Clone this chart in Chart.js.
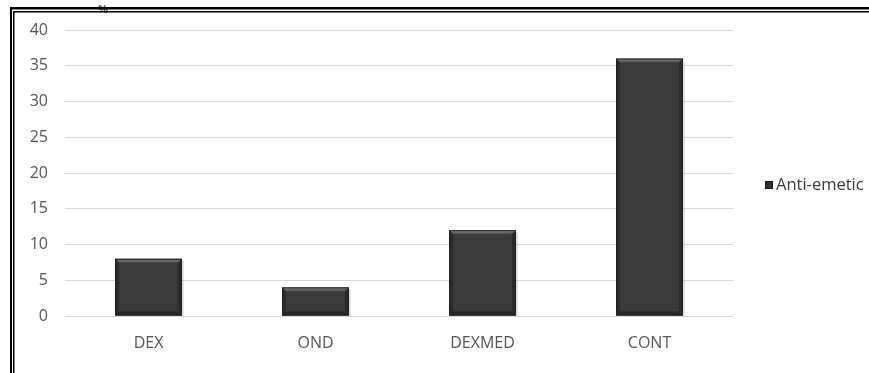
<!DOCTYPE html>
<html>
<head>
<meta charset="utf-8">
<script src="https://cdn.jsdelivr.net/npm/chart.js@4/dist/chart.umd.min.js"></script>
<style>
  html, body { margin: 0; padding: 0; background: #ffffff; }
  #wrap { position: relative; width: 869px; height: 373px; }
</style>
</head>
<body>
<div id="wrap"><canvas id="c" width="869" height="373"></canvas></div>
<script>
// Anti-emetic requirement (%) per study group
const categories = ['DEX', 'OND', 'DEXMED', 'CONT'];
const antiEmetic = [8, 4, 12, 36];
const seriesName = 'Anti-emetic';
const yTicks = [0, 5, 10, 15, 20, 25, 30, 35, 40];
const unitLabel = '%';

const FONT = '"Open Sans", "Liberation Sans", sans-serif';
const TEXT = '#555555';

// Bevelled bar faces plus frame, unit mark and legend
const decor = {
  id: 'decor',
  afterDatasetsDraw(chart) {
    const ctx = chart.ctx;
    const meta = chart.getDatasetMeta(0);
    meta.data.forEach(bar => {
      const { x, y, base, width } = bar.getProps(['x', 'y', 'base', 'width'], true);
      const l = x - width / 2, r = x + width / 2, t = y, b = base;
      const e = 4;
      ctx.save();
      // shadow
      ctx.fillStyle = 'rgba(0,0,0,0.12)';
      ctx.fillRect(r, t + 2, 2, b - t - 1);
      // body
      ctx.fillStyle = '#3a3a3a';
      ctx.fillRect(l, t, width, b - t);
      // top bevel
      const g = ctx.createLinearGradient(0, t, 0, t + e);
      g.addColorStop(0, '#8a8a8a');
      g.addColorStop(1, '#4a4a4a');
      ctx.fillStyle = g;
      ctx.beginPath();
      ctx.moveTo(l, t); ctx.lineTo(r, t); ctx.lineTo(r - e, t + e); ctx.lineTo(l + e, t + e);
      ctx.closePath(); ctx.fill();
      // side bevels
      ctx.fillStyle = '#2b2b2b';
      ctx.beginPath();
      ctx.moveTo(l, t); ctx.lineTo(l + e, t + e); ctx.lineTo(l + e, b - e); ctx.lineTo(l, b);
      ctx.closePath(); ctx.fill();
      ctx.beginPath();
      ctx.moveTo(r, t); ctx.lineTo(r - e, t + e); ctx.lineTo(r - e, b - e); ctx.lineTo(r, b);
      ctx.closePath(); ctx.fill();
      // bottom bevel
      ctx.fillStyle = '#252525';
      ctx.beginPath();
      ctx.moveTo(l, b); ctx.lineTo(l + e, b - e); ctx.lineTo(r - e, b - e); ctx.lineTo(r, b);
      ctx.closePath(); ctx.fill();
      // outline
      ctx.strokeStyle = '#1e1e1e';
      ctx.lineWidth = 1;
      ctx.strokeRect(l + 0.5, t + 0.5, width - 1, b - t - 1);
      ctx.restore();
    });
  },
  afterDraw(chart) {
    const ctx = chart.ctx;
    ctx.save();
    // legend
    const ds = chart.data.datasets[0];
    ctx.fillStyle = '#2e2e2e';
    ctx.fillRect(765, 181, 8, 8);
    ctx.strokeStyle = '#1a1a1a';
    ctx.strokeRect(765.5, 181.5, 7, 7);
    ctx.fillStyle = '#3a3a3a';
    ctx.font = '16.5px ' + FONT;
    ctx.textBaseline = 'middle';
    ctx.textAlign = 'left';
    ctx.fillText(ds.label, 776, 185);
    // unit mark
    ctx.fillStyle = '#555';
    ctx.font = 'bold 11px ' + FONT;
    ctx.fillText(unitLabel, 98, 10);
    // double frame
    ctx.fillStyle = '#000';
    ctx.fillRect(10, 7, 859, 2.5);
    ctx.fillRect(13, 11, 856, 1.5);
    ctx.fillRect(10, 7, 2, 366);
    ctx.fillRect(13, 11, 1.5, 362);
    ctx.restore();
  }
};

new Chart(document.getElementById('c'), {
  type: 'bar',
  data: {
    labels: categories,
    datasets: [{
      label: seriesName,
      data: antiEmetic,
      backgroundColor: 'rgba(0,0,0,0)',
      borderWidth: 0,
      categoryPercentage: 0.4,
      barPercentage: 1.0
    }]
  },
  options: {
    responsive: false,
    animation: false,
    events: [],
    layout: { padding: { left: 14, right: 136, top: 30, bottom: 0 } },
    plugins: { legend: { display: false }, tooltip: { enabled: false } },
    scales: {
      x: {
        grid: { display: false },
        border: { display: false },
        ticks: { color: TEXT, font: { family: FONT, size: 16 }, padding: 10, maxRotation: 0 },
        afterFit(s) { s.height = 57; }
      },
      y: {
        min: 0, max: 40,
        afterBuildTicks(s) { s.ticks = yTicks.map(v => ({ value: v })); },
        grid: { color: '#d9d9d9', lineWidth: 1, drawTicks: false },
        border: { display: false },
        ticks: { color: TEXT, font: { family: FONT, size: 16 }, padding: 17 },
        afterFit(s) { s.width = 51; }
      }
    }
  },
  plugins: [decor]
});
</script>
</body>
</html>
